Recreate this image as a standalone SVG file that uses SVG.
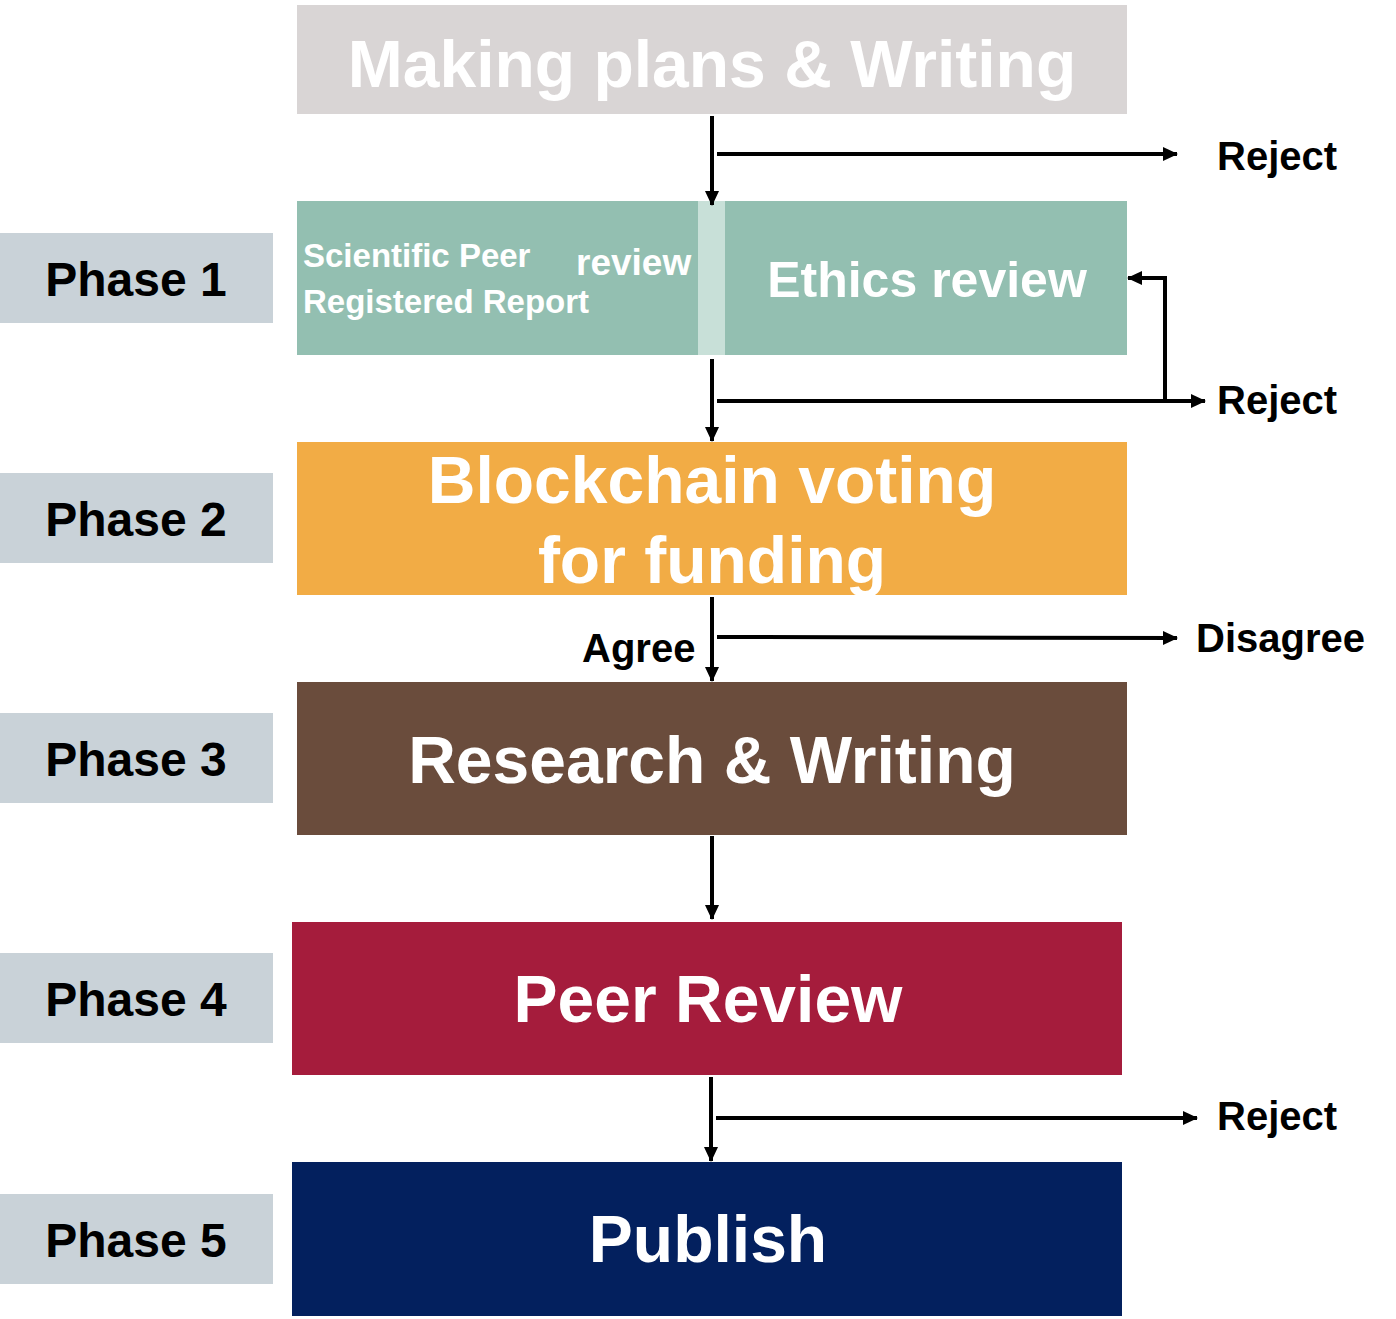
<svg xmlns="http://www.w3.org/2000/svg" width="1396" height="1319" viewBox="0 0 1396 1319">
<style>
.bx{stroke:none}
.w{fill:#ffffff;font-family:"Liberation Sans",Arial,sans-serif;font-weight:bold}
.k{fill:#000000;font-family:"Liberation Sans",Arial,sans-serif;font-weight:bold}
.ph{fill:#c9d2d8}
.c{fill:none;stroke:#000;stroke-width:4}
</style>
<defs>
<marker id="ah" markerWidth="15" markerHeight="14" refX="14" refY="7" orient="auto" markerUnits="userSpaceOnUse">
<path d="M0,0 L15,7 L0,14 Z" fill="#000"/>
</marker>
</defs>
<rect width="1396" height="1319" fill="#ffffff"/>

<g id="phase-labels">
<g id="phase1"><rect class="ph" x="0" y="233" width="273" height="90"/><text class="k" x="136" y="296" font-size="48" text-anchor="middle">Phase 1</text></g>
<g id="phase2"><rect class="ph" x="0" y="473" width="273" height="90"/><text class="k" x="136" y="536" font-size="48" text-anchor="middle">Phase 2</text></g>
<g id="phase3"><rect class="ph" x="0" y="713" width="273" height="90"/><text class="k" x="136" y="776" font-size="48" text-anchor="middle">Phase 3</text></g>
<g id="phase4"><rect class="ph" x="0" y="953" width="273" height="90"/><text class="k" x="136" y="1016" font-size="48" text-anchor="middle">Phase 4</text></g>
<g id="phase5"><rect class="ph" x="0" y="1194" width="273" height="90"/><text class="k" x="136" y="1257" font-size="48" text-anchor="middle">Phase 5</text></g>
</g>

<g id="making-plans">
<rect class="bx" x="297" y="5" width="830" height="109" fill="#d9d5d5"/>
<text class="w" x="712" y="87" font-size="66" text-anchor="middle">Making plans &amp; Writing</text>
</g>

<g id="review">
<rect class="bx" x="297" y="201" width="830" height="154" fill="#93bfb1"/>
<rect class="bx" x="698" y="201" width="27" height="154" fill="#c8e0d8"/>
<text class="w" x="303" y="267" font-size="33">Scientific Peer</text>
<text class="w" x="303" y="313" font-size="33">Registered Report</text>
<text class="w" x="576" y="275" font-size="37">review</text>
<text class="w" x="927" y="297" font-size="50" text-anchor="middle">Ethics review</text>
</g>

<g id="voting">
<rect class="bx" x="297" y="442" width="830" height="153" fill="#f2ac45"/>
<text class="w" x="712" y="503" font-size="66" text-anchor="middle">Blockchain voting</text>
<text class="w" x="712" y="583" font-size="66" text-anchor="middle">for funding</text>
</g>

<g id="research">
<rect class="bx" x="297" y="682" width="830" height="153" fill="#6a4c3c"/>
<text class="w" x="712" y="783" font-size="66" text-anchor="middle">Research &amp; Writing</text>
</g>

<g id="peer-review">
<rect class="bx" x="292" y="922" width="830" height="153" fill="#a51c3c"/>
<text class="w" x="708" y="1022" font-size="66" text-anchor="middle">Peer Review</text>
</g>

<g id="publish">
<rect class="bx" x="292" y="1162" width="830" height="154" fill="#03205e"/>
<text class="w" x="708" y="1262" font-size="66" text-anchor="middle">Publish</text>
</g>

<g id="connectors">
<line class="c" x1="712" y1="116" x2="712" y2="205" marker-end="url(#ah)"/>
<line class="c" x1="717" y1="154" x2="1177" y2="154" marker-end="url(#ah)"/>
<line class="c" x1="712" y1="359" x2="712" y2="441" marker-end="url(#ah)"/>
<line class="c" x1="717" y1="401" x2="1205" y2="401" marker-end="url(#ah)"/>
<polyline class="c" points="1165,401 1165,278 1128,278" marker-end="url(#ah)"/>
<line class="c" x1="712" y1="597" x2="712" y2="681" marker-end="url(#ah)"/>
<line class="c" x1="717" y1="637" x2="1177" y2="638" marker-end="url(#ah)"/>
<line class="c" x1="712" y1="836" x2="712" y2="919" marker-end="url(#ah)"/>
<line class="c" x1="711" y1="1077" x2="711" y2="1161" marker-end="url(#ah)"/>
<line class="c" x1="716" y1="1118" x2="1197" y2="1118" marker-end="url(#ah)"/>
</g>

<g id="edge-labels">
<text class="k" x="1217" y="170" font-size="40">Reject</text>
<text class="k" x="1217" y="414" font-size="40">Reject</text>
<text class="k" x="582" y="662" font-size="40">Agree</text>
<text class="k" x="1196" y="652" font-size="40">Disagree</text>
<text class="k" x="1217" y="1130" font-size="40">Reject</text>
</g>
</svg>
